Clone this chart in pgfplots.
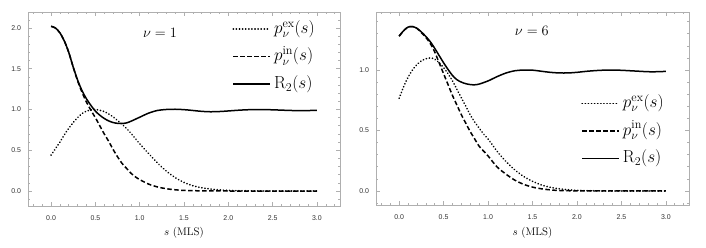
\documentclass[border=0pt]{standalone}
\usepackage{fontspec}
\usepackage{pgfplots}
\pgfplotsset{compat=1.18}
\newfontfamily\ticksf{Liberation Sans}
\definecolor{framegray}{RGB}{175,175,175}
\pgfplotsset{
  mystyle/.style={
    scale only axis,
    axis line style={framegray, line width=0.8bp},
    every tick/.style={framegray, line width=0.6bp},
    tick align=inside,
    major tick length=4bp,
    minor tick length=2.4bp,
    tick pos=both,
    xtick={0,0.5,...,3.0},
    minor xtick={-0.2,-0.1,...,3.21},
    xmin=-0.26, xmax=3.26,
    ticklabel style={font=\ticksf\fontsize{7}{8}\selectfont, text=black!80},
    /pgf/number format/assume math mode=true,
    /pgf/number format/fixed, /pgf/number format/fixed zerofill,
    /pgf/number format/precision=1,
    xticklabel style={yshift=-6.5bp},
    yticklabel style={xshift=-3.5bp},
    xlabel={$s$ (MLS)},
    label style={font=\fontsize{11}{13}\selectfont},
    legend cell align=left,
    legend image code/.code={\draw[#1] (0bp,0bp) -- (37bp,0bp);},
    legend style={draw=none, fill=none, inner sep=0pt, row sep=9bp, column sep=2bp,
      font=\fontsize{17.5}{19}\selectfont,
      nodes={inner sep=1bp, text height=12.5bp, text depth=4bp}},
    dotline/.style={black, line width=1.7bp, line cap=round, dash pattern=on 0.2bp off 2.9bp},
    dashline/.style={black, line width=1.5bp, dash pattern=on 4.5bp off 2.5bp},
    solidline/.style={black, line width=1.5bp},
  }
}
\begin{document}
\begin{tikzpicture}
\begin{axis}[mystyle,
  at={(28bp,42bp)}, anchor=south west,
  width=312bp, height=194bp,
  ymin=-0.184, ymax=2.196,
  ytick={0,0.5,...,2.0},
  minor ytick={-0.1,0,...,2.11},
  x label style={at={(axis description cs:0.5,-0.14)},anchor=center},
  legend style={at={(0.923,0.96)}, anchor=north east},
]
\addplot[dotline, smooth] coordinates {
(0,0.44) (0.05,0.52) (0.1,0.60) (0.15,0.69) (0.2,0.77) (0.25,0.84) (0.3,0.90)
(0.35,0.95) (0.4,0.98) (0.45,0.995) (0.5,1.0) (0.55,0.99) (0.6,0.975) (0.65,0.945)
(0.7,0.91) (0.75,0.865) (0.8,0.82) (0.85,0.77) (0.9,0.71) (0.95,0.645) (1.0,0.58)
(1.1,0.46) (1.2,0.345) (1.3,0.245) (1.4,0.165) (1.5,0.105) (1.6,0.065) (1.7,0.04)
(1.8,0.024) (1.9,0.013) (2.0,0.007) (2.2,0.002) (2.5,0) (3.0,0)};
\addlegendentry{$p_\nu^{\mathrm{ex}}(s)$}
\addplot[dashline, smooth] coordinates {
(0,2.02) (0.05,2.00) (0.1,1.94) (0.15,1.84) (0.2,1.70) (0.25,1.52) (0.3,1.35)
(0.35,1.21) (0.4,1.09) (0.45,0.99) (0.5,0.90) (0.55,0.80) (0.6,0.70) (0.65,0.61)
(0.7,0.51) (0.75,0.42) (0.8,0.34) (0.85,0.28) (0.9,0.22) (0.95,0.175) (1.0,0.14)
(1.1,0.085) (1.2,0.05) (1.3,0.028) (1.4,0.015) (1.5,0.007) (1.7,0.002) (2.0,0) (3.0,0)};
\addlegendentry{$p_\nu^{\mathrm{in}}(s)$}
\addplot[solidline, smooth] coordinates {
(0,2.02) (0.05,2.00) (0.1,1.94) (0.15,1.84) (0.2,1.70) (0.25,1.52) (0.3,1.36)
(0.35,1.23) (0.4,1.13) (0.45,1.05) (0.5,0.98) (0.55,0.93) (0.6,0.89) (0.65,0.86)
(0.7,0.84) (0.75,0.83) (0.8,0.828) (0.85,0.835) (0.9,0.855) (1.0,0.905) (1.1,0.955)
(1.2,0.988) (1.3,1.0) (1.4,1.003) (1.5,0.998) (1.6,0.988) (1.7,0.977) (1.8,0.972)
(1.9,0.975) (2.0,0.982) (2.1,0.99) (2.2,0.996) (2.3,0.999) (2.4,0.999) (2.5,0.996)
(2.6,0.992) (2.7,0.988) (2.8,0.986) (2.9,0.987) (3.0,0.99)};
\addlegendentry{$\mathrm{R}_2(s)$}
\node[font=\fontsize{15.5}{17}\selectfont] at (axis description cs:0.423,0.89) {$\nu=1$};
\end{axis}
\begin{axis}[mystyle,
  at={(376bp,43bp)}, anchor=south west,
  width=313bp, height=193bp,
  ymin=-0.116, ymax=1.48,
  ytick={0,0.5,1.0},
  minor ytick={-0.1,0,...,1.41},
  x label style={at={(axis description cs:0.5,-0.145)},anchor=center},
  legend style={at={(0.923,0.575)}, anchor=north east},
]
\addplot[dotline, smooth] coordinates {
(0,0.766) (0.05,0.86) (0.1,0.94) (0.15,1.0) (0.2,1.045) (0.25,1.075) (0.3,1.093)
(0.35,1.10) (0.4,1.09) (0.45,1.06) (0.5,1.02) (0.55,0.97) (0.6,0.91) (0.65,0.84)
(0.7,0.77) (0.75,0.70) (0.8,0.63) (0.85,0.57) (0.9,0.52) (0.95,0.47) (1.0,0.43)
(1.1,0.33) (1.2,0.245) (1.3,0.175) (1.4,0.12) (1.5,0.08) (1.6,0.05) (1.7,0.03)
(1.8,0.018) (1.9,0.01) (2.0,0.005) (2.2,0.001) (2.5,0) (3.0,0)};
\addlegendentry{$p_\nu^{\mathrm{ex}}(s)$}
\addplot[dashline, smooth] coordinates {
(0,1.28) (0.05,1.325) (0.1,1.355) (0.15,1.36) (0.2,1.345) (0.25,1.31) (0.3,1.27)
(0.35,1.22) (0.4,1.15) (0.45,1.06) (0.5,0.97) (0.55,0.88) (0.6,0.79) (0.65,0.71)
(0.7,0.63) (0.75,0.56) (0.8,0.49) (0.85,0.43) (0.9,0.37) (0.95,0.33) (1.0,0.29)
(1.1,0.20) (1.2,0.14) (1.3,0.09) (1.4,0.055) (1.5,0.032) (1.6,0.018) (1.7,0.009)
(1.8,0.004) (2.0,0.001) (2.5,0) (3.0,0)};
\addlegendentry{$p_\nu^{\mathrm{in}}(s)$}
\addplot[solidline, smooth] coordinates {
(0,1.28) (0.05,1.325) (0.1,1.355) (0.15,1.36) (0.2,1.345) (0.25,1.315) (0.3,1.278)
(0.35,1.235) (0.4,1.18) (0.45,1.12) (0.5,1.06) (0.55,1.005) (0.6,0.955) (0.65,0.92)
(0.7,0.90) (0.75,0.887) (0.8,0.88) (0.85,0.878) (0.9,0.884) (1.0,0.91) (1.1,0.945)
(1.2,0.975) (1.3,0.994) (1.4,1.0) (1.5,0.999) (1.6,0.99) (1.7,0.981) (1.8,0.976)
(1.9,0.976) (2.0,0.981) (2.1,0.989) (2.2,0.995) (2.3,0.999) (2.4,1.0) (2.5,0.998)
(2.6,0.994) (2.7,0.99) (2.8,0.986) (2.9,0.986) (3.0,0.989)};
\addlegendentry{$\mathrm{R}_2(s)$}
\node[font=\fontsize{15.5}{17}\selectfont] at (axis description cs:0.498,0.9) {$\nu=6$};
\end{axis}
\pgfresetboundingbox
\path (0,0) rectangle (706bp,248bp);
\end{tikzpicture}
\end{document}
